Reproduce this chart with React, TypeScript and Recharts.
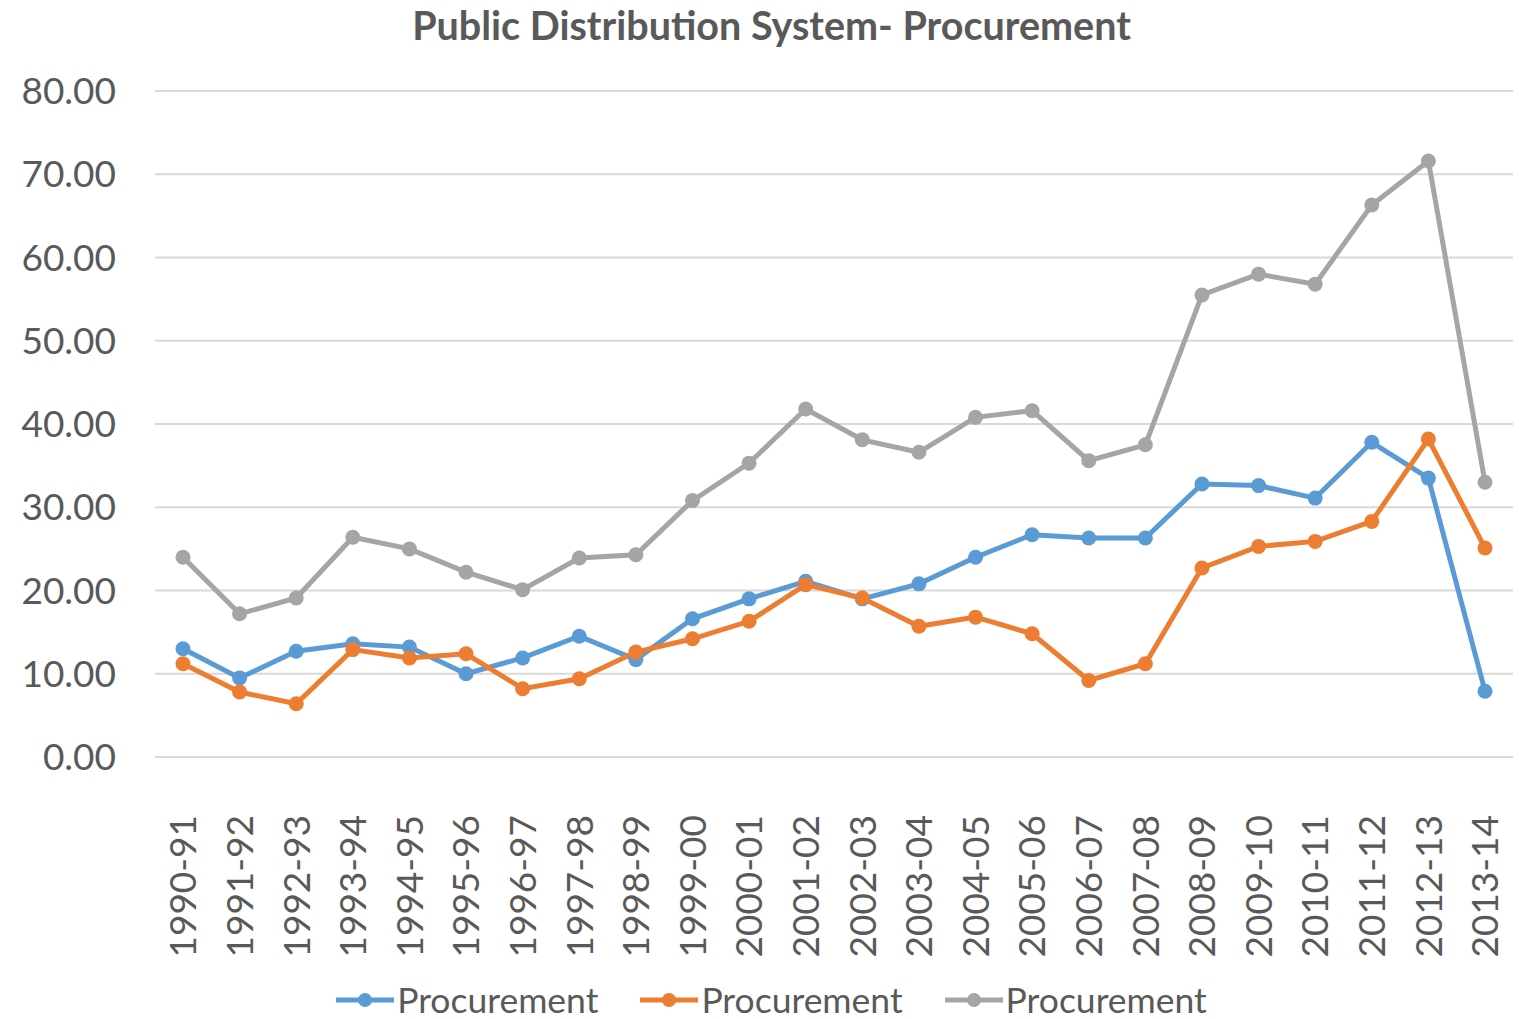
import { CartesianGrid, Legend, Line, LineChart, XAxis, YAxis } from "recharts";

const years = [
  "1990-91", "1991-92", "1992-93", "1993-94", "1994-95", "1995-96", "1996-97", "1997-98",
  "1998-99", "1999-00", "2000-01", "2001-02", "2002-03", "2003-04", "2004-05", "2005-06",
  "2006-07", "2007-08", "2008-09", "2009-10", "2010-11", "2011-12", "2012-13", "2013-14",
];

const blueValues = [
  13.0, 9.5, 12.7, 13.6, 13.2, 10.0, 11.9, 14.5, 11.7, 16.6, 19.0, 21.1,
  19.0, 20.8, 24.0, 26.7, 26.3, 26.3, 32.8, 32.6, 31.1, 37.8, 33.5, 7.9,
];
const orangeValues = [
  11.2, 7.8, 6.4, 12.9, 11.9, 12.4, 8.2, 9.4, 12.6, 14.2, 16.3, 20.7,
  19.1, 15.7, 16.8, 14.8, 9.2, 11.2, 22.7, 25.3, 25.9, 28.3, 38.2, 25.1,
];
const grayValues = [
  24.0, 17.2, 19.1, 26.4, 25.0, 22.2, 20.1, 23.9, 24.3, 30.8, 35.3, 41.8,
  38.1, 36.6, 40.8, 41.6, 35.6, 37.5, 55.5, 58.0, 56.8, 66.3, 71.6, 33.0,
];
const yTicks = [0, 10, 20, 30, 40, 50, 60, 70, 80];

const seriesName = "Procurement";
const FONT = "Lato, 'Liberation Sans', sans-serif";
const TEXT = "#595959";

const data = years.map((year, i) => ({
  year,
  blue: blueValues[i],
  orange: orangeValues[i],
  gray: grayValues[i],
}));

function YearTick({ x, y, payload }: any) {
  return (
    <text
      x={x}
      y={y}
      dy="0.36em"
      transform={`rotate(-90, ${x}, ${y})`}
      textAnchor="end"
      fill={TEXT}
      fontSize={37}
      fontFamily={FONT}
    >
      {payload.value}
    </text>
  );
}

function LegendContent({ payload }: any) {
  return (
    <div
      style={{
        display: "flex",
        justifyContent: "center",
        alignItems: "center",
        height: 46,
        paddingTop: 8,
        paddingLeft: 30,
        boxSizing: "border-box",
      }}
    >
      {(payload ?? []).map((entry: any, i: number) => (
        <div
          key={i}
          style={{ display: "flex", alignItems: "center", marginLeft: i === 0 ? 0 : 42 }}
        >
          <svg width={58} height={20}>
            <line x1={0} y1={10} x2={58} y2={10} stroke={entry.color} strokeWidth={5} />
            <circle cx={29} cy={10} r={7} fill={entry.color} />
          </svg>
          <span
            style={{
              marginLeft: 3,
              fontFamily: FONT,
              fontSize: 35.5,
              color: TEXT,
              lineHeight: "38px",
            }}
          >
            {entry.value}
          </span>
        </div>
      ))}
    </div>
  );
}

export default function App() {
  return (
    <div
      style={{
        position: "absolute",
        top: 0,
        left: 0,
        width: 1519,
        height: 1019,
        background: "#ffffff",
      }}
    >
      <div
        style={{
          position: "absolute",
          top: 1,
          left: 12,
          width: 1519,
          textAlign: "center",
          fontFamily: FONT,
          fontWeight: 700,
          fontSize: 39.5,
          color: TEXT,
        }}
      >
        Public Distribution System- Procurement
      </div>
      <LineChart
        width={1519}
        height={1019}
        data={data}
        margin={{ top: 91, right: 6, left: 0, bottom: 0 }}
      >
        <CartesianGrid vertical={false} stroke="#D9D9D9" strokeWidth={2} />
        <XAxis
          dataKey="year"
          axisLine={false}
          tickLine={false}
          tickSize={0}
          tickMargin={58}
          height={216}
          interval={0}
          padding={{ left: 28, right: 28 }}
          tick={<YearTick />}
        />
        <YAxis
          domain={[0, 80]}
          ticks={yTicks}
          width={155}
          axisLine={false}
          tickLine={false}
          tickSize={0}
          tickMargin={39}
          tickFormatter={(v: number) => v.toFixed(2)}
          tick={{ fontSize: 37, fill: TEXT, fontFamily: FONT }}
        />
        <Legend verticalAlign="bottom" content={<LegendContent />} />
        <Line
          name={seriesName}
          dataKey="blue"
          stroke="#5B9BD5"
          strokeWidth={5}
          dot={{ r: 7.5, fill: "#5B9BD5", stroke: "#5B9BD5", strokeWidth: 0 }}
          isAnimationActive={false}
        />
        <Line
          name={seriesName}
          dataKey="orange"
          stroke="#ED7D31"
          strokeWidth={5}
          dot={{ r: 7.5, fill: "#ED7D31", stroke: "#ED7D31", strokeWidth: 0 }}
          isAnimationActive={false}
        />
        <Line
          name={seriesName}
          dataKey="gray"
          stroke="#A5A5A5"
          strokeWidth={5}
          dot={{ r: 7.5, fill: "#A5A5A5", stroke: "#A5A5A5", strokeWidth: 0 }}
          isAnimationActive={false}
        />
      </LineChart>
    </div>
  );
}
